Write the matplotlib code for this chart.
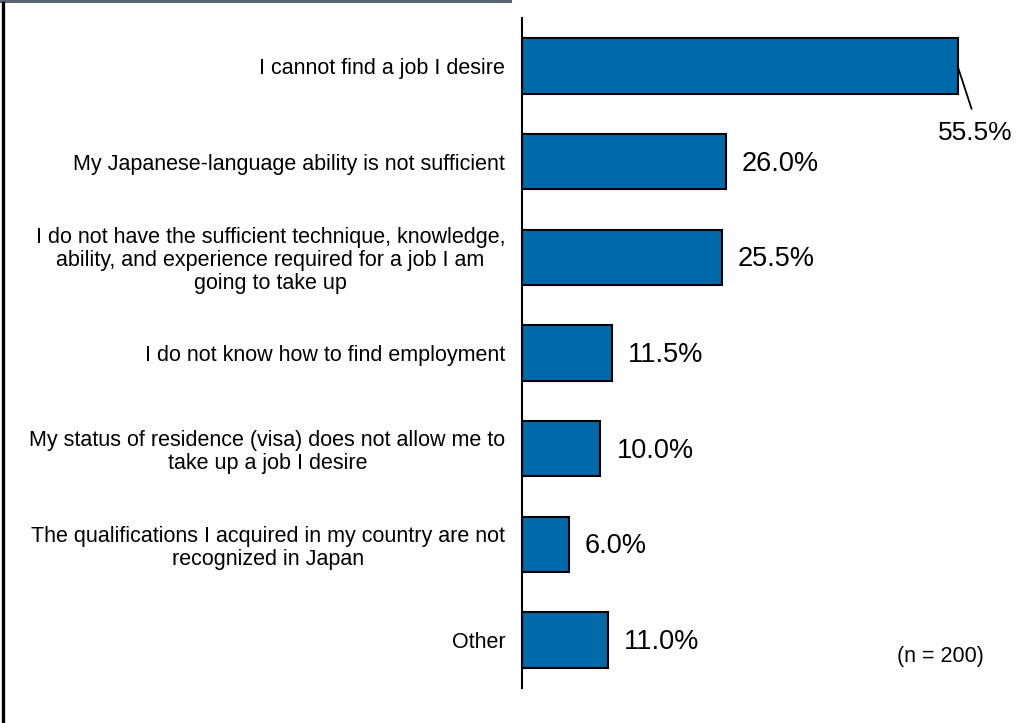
import matplotlib
matplotlib.use("Agg")
import matplotlib.pyplot as plt
from matplotlib.lines import Line2D

plt.rcParams['font.family'] = ['Liberation Sans', 'DejaVu Sans']

categories = [
    "I cannot find a job I desire",
    "My Japanese-language ability is not sufficient",
    "I do not have the sufficient technique, knowledge,\nability, and experience required for a job I am\ngoing to take up",
    "I do not know how to find employment",
    "My status of residence (visa) does not allow me to\ntake up a job I desire",
    "The qualifications I acquired in my country are not\nrecognized in Japan",
    "Other",
]
values = [55.5, 26.0, 25.5, 11.5, 10.0, 6.0, 11.0]
sample_note = "(n = 200)"

fig = plt.figure(figsize=(10.28, 7.23), dpi=100)
ax = fig.add_axes([0.5078, 0.0484, 0.458, 0.9266])

ypos = list(range(len(categories)))
bars = ax.barh(ypos, values, height=0.58, color="#0069AA",
               edgecolor="black", linewidth=1.5, zorder=2)

ax.set_xlim(0, 60)
ax.set_ylim(len(categories) - 0.5, -0.5)
ax.set_yticks(ypos)
ax.set_yticklabels(categories, fontsize=15.5, ma="center", linespacing=1.12)
ax.tick_params(axis="y", length=0, pad=12)
ax.set_xticks([])

for side in ("top", "right", "bottom"):
    ax.spines[side].set_visible(False)
ax.spines["left"].set_linewidth(1.5)

for i, v in enumerate(values):
    label = f"{v:.1f}%"
    if i == 0:
        ax.annotate(label, xy=(v, i), xytext=(18, -67),
                    textcoords="offset pixels", ha="center", va="center",
                    fontsize=19,
                    arrowprops=dict(arrowstyle="-", color="black", lw=1.3,
                                    relpos=(0.5, 1.0), shrinkA=7, shrinkB=0))
    else:
        ax.annotate(label, xy=(v, i), xytext=(16, -2),
                    textcoords="offset pixels", ha="left", va="center",
                    fontsize=19.5)

fig.text(0.915, 0.092, sample_note, ha="center", va="center", fontsize=15.5)

# frame decorations around the chart
fig.add_artist(Line2D([0, 0.496], [0.9985, 0.9985], transform=fig.transFigure,
                      color="#5A6672", linewidth=2.2))
fig.add_artist(Line2D([0.0034, 0.0034], [0, 0.996], transform=fig.transFigure,
                      color="black", linewidth=2.4))

fig.savefig("out.png", dpi=100)
